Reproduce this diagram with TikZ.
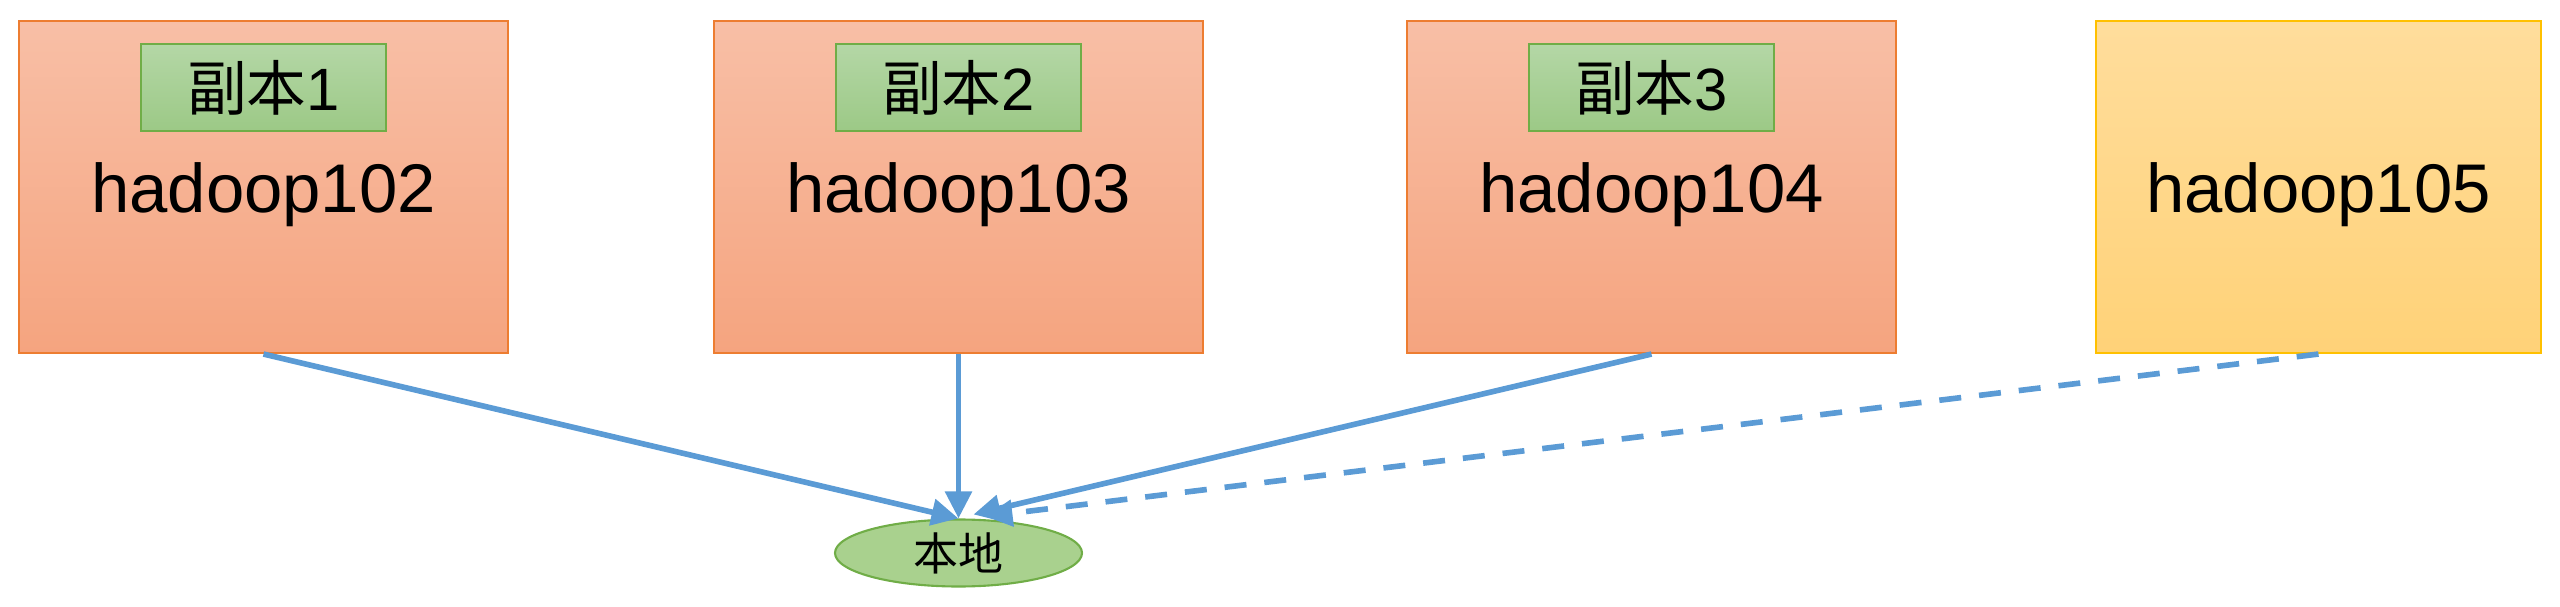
\documentclass[tikz,border=0pt]{standalone}
\usepackage{fontspec}
\setmainfont{Liberation Sans}
\newfontfamily\cjk{Noto Sans CJK SC}
\usetikzlibrary{arrows.meta,shapes.geometric}
\definecolor{hostline}{HTML}{ED7D31}
\definecolor{hosttop}{HTML}{F8BFA6}
\definecolor{hostbottom}{HTML}{F5A47F}
\definecolor{spareline}{HTML}{FFC000}
\definecolor{sparetop}{HTML}{FFDD9C}
\definecolor{sparebottom}{HTML}{FFD278}
\definecolor{tagline}{HTML}{70AD47}
\definecolor{tagtop}{HTML}{B4D7A6}
\definecolor{tagbottom}{HTML}{9CC986}
\definecolor{localfill}{HTML}{A9D18E}
\definecolor{linkblue}{HTML}{5B9BD5}

\begin{document}
\begin{tikzpicture}[line width=0.6pt, >={Triangle[length=0.27cm,width=0.26cm]},
	    host/.style={draw=hostline, top color=hosttop, bottom color=hostbottom,
	      minimum width=4.89cm, minimum height=3.32cm, inner sep=0pt},
	    spare/.style={host, draw=spareline, top color=sparetop,
	      bottom color=sparebottom, minimum width=4.45cm},
	    copytag/.style={draw=tagline, top color=tagtop, bottom color=tagbottom,
	      minimum width=2.45cm, minimum height=0.87cm, inner sep=0pt,
	      font=\fontsize{17}{20}\selectfont},
	    hostname/.style={anchor=base, inner sep=0pt,
	      font=\fontsize{19.6}{23}\selectfont},
	    link/.style={draw=linkblue, line width=1.6pt, ->}]
	    \useasboundingbox (0,0) rectangle (25.6,6.06);
	    \node[host] (h102) at (2.635,4.19) {};
	    \node[host] (h103) at (9.585,4.19) {};
	    \node[host] (h104) at (16.515,4.19) {};
	    \node[spare] (h105) at (23.185,4.19) {};
	    \node[copytag] (c1) at (2.635,5.185) {{\cjk 副本}1};
	    \node[copytag] (c2) at (9.585,5.185) {{\cjk 副本}2};
	    \node[copytag] (c3) at (16.515,5.185) {{\cjk 副本}3};
	    \node[hostname] (n102) at (2.635,3.93) {hadoop102};
	    \node[hostname] (n103) at (9.585,3.93) {hadoop103};
	    \node[hostname] (n104) at (16.515,3.93) {hadoop104};
	    \node[hostname] (n105) at (23.185,3.93) {hadoop105};
	    \node[ellipse, draw=tagline, fill=localfill, minimum width=2.47cm,
	      minimum height=0.67cm, inner sep=0pt,
	      font=\cjk\fontsize{12.8}{15}\selectfont] (local) at (9.585,0.53) {本地};
	    \coordinate (tip3) at ([xshift=0.15cm,yshift=0.04cm]local.north);
	    \coordinate (tip4) at ([xshift=0.27cm,yshift=0.02cm]local.north);
	    \draw[link] (h102.south) -- (local.north);
	    \draw[link] (h103.south) -- (local.north);
	    \draw[link] (h104.south) -- (tip3);
	    \draw[link, dash pattern=on 0.22cm off 0.18cm] (h105.south) -- (tip4);
	  \end{tikzpicture}
\end{document}
